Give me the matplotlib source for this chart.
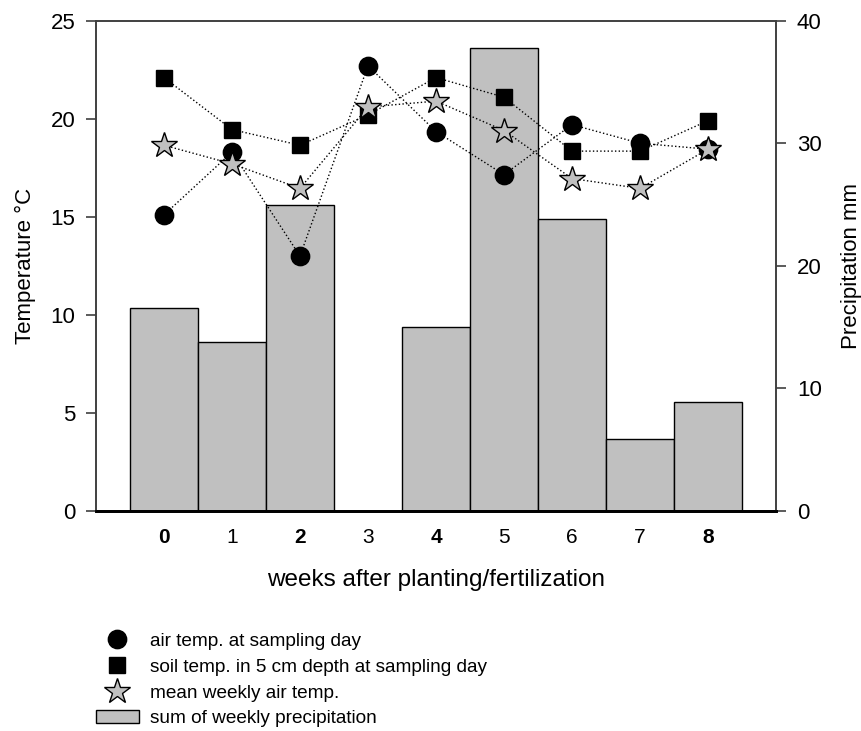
import matplotlib
matplotlib.use("Agg")
import matplotlib.pyplot as plt

weeks = [0, 1, 2, 3, 4, 5, 6, 7, 8]
week_labels = ["0", "1", "2", "3", "4", "5", "6", "7", "8"]
bold_weeks = [0, 2, 4, 8]

air_temp_sampling = [15.1, 18.3, 13.0, 22.7, 19.35, 17.15, 19.7, 18.75, 18.45]
soil_temp_5cm = [22.1, 19.45, 18.65, 20.2, 22.1, 21.1, 18.35, 18.35, 19.9]
mean_weekly_air = [18.65, 17.7, 16.45, 20.6, 20.9, 19.4, 16.95, 16.45, 18.45]
weekly_precip = [16.6, 13.8, 25.0, 0.0, 15.0, 37.8, 23.8, 5.9, 8.9]

plt.rcParams["font.family"] = ["Liberation Sans", "DejaVu Sans"]
spine_col = "#404040"

fig = plt.figure(figsize=(8.62, 7.31), dpi=100)
ax = fig.add_axes([96 / 862, 1 - 511 / 731, 680 / 862, 490.3 / 731])
ax2 = ax.twinx()

# precipitation bars on the right-hand axis, kept behind the temperature series
bars = ax2.bar(weeks, weekly_precip, width=1.0, color="#c0c0c0",
               edgecolor="black", linewidth=1.0,
               label="sum of weekly precipitation", zorder=1)
ax.set_zorder(ax2.get_zorder() + 1)
ax.patch.set_visible(False)

line_kw = dict(color="black", linestyle=":", linewidth=1.0, zorder=2)
ax.plot(weeks, air_temp_sampling, **line_kw)
ax.plot(weeks, soil_temp_5cm, **line_kw)
ax.plot(weeks, mean_weekly_air, **line_kw)

h_air, = ax.plot(weeks, air_temp_sampling, linestyle="none", marker="o",
                 markersize=13.2, color="black", zorder=3,
                 label="air temp. at sampling day")
h_soil, = ax.plot(weeks, soil_temp_5cm, linestyle="none", marker="s",
                  markersize=12, color="black", zorder=4,
                  label="soil temp. in 5 cm depth at sampling day")
h_mean, = ax.plot(weeks, mean_weekly_air, linestyle="none", marker="*",
                  markersize=19, markerfacecolor="#c0c0c0",
                  markeredgecolor="black", markeredgewidth=1.0, zorder=5,
                  label="mean weekly air temp.")

ax.set_xlim(-1, 9)
ax.set_ylim(0, 25)
ax2.set_ylim(0, 40)
ax.set_yticks([0, 5, 10, 15, 20, 25])
ax2.set_yticks([0, 10, 20, 30, 40])

ax.set_xticks(weeks)
ax.set_xticklabels(week_labels)
for wk, lab in zip(weeks, ax.get_xticklabels()):
    lab.set_fontsize(15)
    if wk in bold_weeks:
        lab.set_fontweight("bold")
ax.tick_params(axis="x", length=0, pad=12)
ax.tick_params(axis="y", length=7, width=1.2, color=spine_col,
               labelsize=16, pad=8)
ax2.tick_params(axis="y", length=7, width=1.2, color=spine_col,
                labelsize=16, pad=8)

for a in (ax, ax2):
    for s in a.spines.values():
        s.set_color(spine_col)
        s.set_linewidth(1.2)
    a.spines["bottom"].set_color("black")
    a.spines["bottom"].set_linewidth(2.0)

ax.set_ylabel("Temperature °C", fontsize=16, labelpad=10)
ax2.set_ylabel("Precipitation mm", fontsize=16, labelpad=14)
ax.set_xlabel("weeks after planting/fertilization", fontsize=17.5,
              labelpad=16)

fig.legend(handles=[h_air, h_soil, h_mean, bars[0]],
           labels=["air temp. at sampling day",
                   "soil temp. in 5 cm depth at sampling day",
                   "mean weekly air temp.",
                   "sum of weekly precipitation"],
           loc="upper left", bbox_to_anchor=(86 / 862, 1 - 623 / 731),
           frameon=False, fontsize=13.7, handlelength=2.3, handleheight=0.7,
           handletextpad=0.55, labelspacing=0.45, borderpad=0)

fig.savefig("out.png", dpi=100)
